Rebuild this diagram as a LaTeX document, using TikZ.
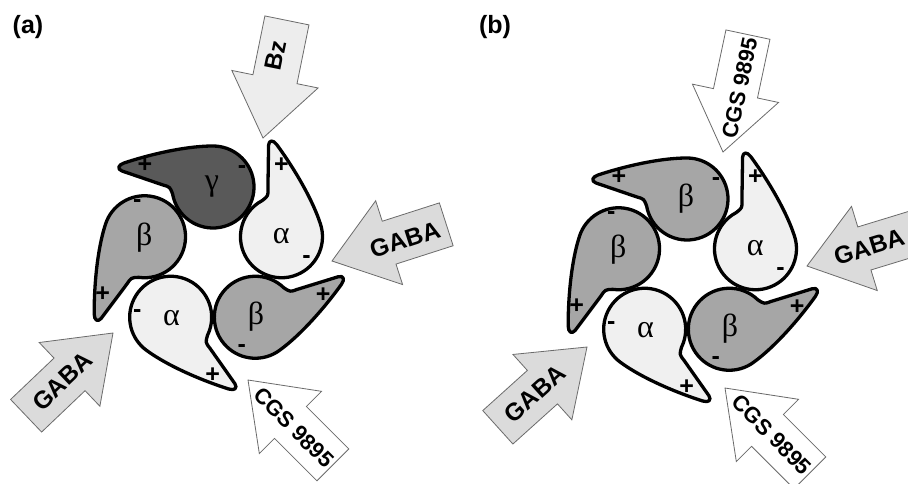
\documentclass[tikz,border=0pt]{standalone}
\usepackage{fontspec}
\setmainfont{Liberation Sans}
\newfontfamily\greekfont{Liberation Serif}
\definecolor{alphac}{gray}{0.94}
\definecolor{betac}{gray}{0.65}
\definecolor{gammac}{gray}{0.35}
\definecolor{gabac}{gray}{0.86}
\definecolor{bzc}{gray}{0.93}
\definecolor{arrowedge}{gray}{0.42}
\newcommand\subpath{(100:41) arc[start angle=100,end angle=360,radius=41] .. controls (41,30) and (31,68) .. (24,89) .. controls (22,95) and (18,96) .. (16,91) -- (2,50) .. controls (0,43) .. (100:41) -- cycle}
% #1 centre, #2 angle, #3 fill, #4 letter, #5 name
\newcommand\subunit[5]{%
 \begin{scope}[shift={#1},rotate=#2,shift={(72,0)}]
  \draw[sub,fill=#3] \subpath;
  \node[greek] (#5) at (0,1) {#4};
  \node[sign] (#5p) at (22,68) {+};
  \node[sign] (#5m) at (17,-29) {-};
 \end{scope}}
% #1 tip, #2 axis angle, #3 fill, #4 text, #5 text rotation, #6 text position, #7 name, #8 text style
\newcommand\blockarrow[8]{%
 \begin{scope}[shift={#1},rotate=#2]
  \draw[arrowline,fill=#3] (0,0) -- (60,44) -- (60,22.5) -- (120,22.5) -- (120,-22.5) -- (60,-22.5) -- (60,-44) -- cycle;
  \node[#8,rotate=#5] (#7) at #6 {#4};
 \end{scope}}
\begin{document}
\begin{tikzpicture}[x=1pt,y=1pt,
  sub/.style={draw=black,line width=3.3pt,line join=round},
  greek/.style={inner sep=0pt,font=\greekfont\fontsize{32}{34}\selectfont},
  sign/.style={inner sep=0pt,font=\bfseries\fontsize{25}{27}\selectfont},
  arrowline/.style={draw=arrowedge,line width=0.8pt,line join=miter},
  gabatext/.style={inner sep=0pt,font=\bfseries\fontsize{24.5}{26}\selectfont},
  cgstext/.style={inner sep=0pt,font=\bfseries\fontsize{22}{24}\selectfont},
  bztext/.style={inner sep=0pt,font=\bfseries\fontsize{24}{26}\selectfont},
  panel/.style={inner sep=0pt,font=\bfseries\fontsize{25}{28}\selectfont}]
\useasboundingbox (0,0) rectangle (908,-484);
\fill[white] (0,0) rectangle (908,-484);
% panel labels
\node[panel] (la) at (28,-27) {(a)};
\node[panel] (lb) at (495,-27) {(b)};
% panel (a)
\subunit{(213,-259)}{90}{gammac}{γ}{ag}
\subunit{(213,-259)}{18}{alphac}{α}{aa1}
\subunit{(213,-259)}{-54}{betac}{β}{ab1}
\subunit{(213,-259)}{-126}{alphac}{α}{aa2}
\subunit{(213,-259)}{162}{betac}{β}{ab2}
\blockarrow{(263,-138)}{78.5}{bzc}{Bz}{78.5}{(83,4)}{bz}{bztext}
\blockarrow{(332,-261)}{17.8}{gabac}{GABA}{17.8}{(76,-2)}{agaba1}{gabatext}
\blockarrow{(113,-333)}{223.6}{gabac}{GABA}{43.6}{(70,0)}{agaba2}{gabatext}
\blockarrow{(248,-380)}{-45}{white}{CGS 9895}{-45}{(66,-1)}{acgs}{cgstext}
% panel (b)
\subunit{(687,-271)}{90}{betac}{β}{bb0}
\subunit{(687,-271)}{18}{alphac}{α}{ba1}
\subunit{(687,-271)}{-54}{betac}{β}{bb1}
\subunit{(687,-271)}{-126}{alphac}{α}{ba2}
\subunit{(687,-271)}{162}{betac}{β}{bb2}
\blockarrow{(723,-152)}{78}{white}{CGS 9895}{78}{(66,-3)}{bcgs1}{cgstext}
\blockarrow{(807,-266)}{17}{gabac}{GABA}{17}{(65,0)}{bgaba1}{gabatext}
\blockarrow{(587,-347)}{222}{gabac}{GABA}{42}{(70,0)}{bgaba2}{gabatext}
\blockarrow{(725,-388)}{-45}{white}{CGS 9895}{-45}{(66,0)}{bcgs2}{cgstext}
\end{tikzpicture}
\end{document}
